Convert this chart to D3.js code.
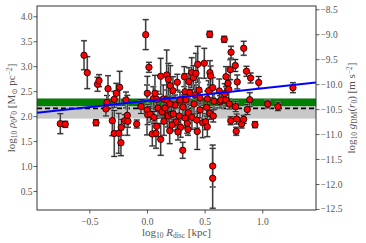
<!DOCTYPE html>
<html>
<head>
<meta charset="utf-8">
<script src="https://cdn.jsdelivr.net/npm/d3@7"></script>
<style>
  body { margin: 0; background: #fff; }
  svg { display: block; font-family: "Liberation Serif", "DejaVu Serif", serif; }
</style>
</head>
<body>
<svg id="chart" width="366" height="243"></svg>
<script>
// log10 R_disc [kpc]
const logR = [-0.752,-0.709,-0.546,-0.518,-0.442,-0.429,-0.416,-0.356,-0.347,-0.338,
  -0.301,-0.284,-0.266,-0.284,-0.245,-0.237,-0.223,-0.226,-0.193,-0.182,
  -0.171,-0.165,-0.089,-0.052,-0.011,0.003,0.017,0.000,0.006,0.029,
  0.046,0.055,0.069,0.061,0.084,0.078,0.084,0.119,0.119,0.141,
  0.147,0.171,0.171,0.176,0.185,0.185,0.197,0.202,0.214,0.225,
  0.228,0.263,0.280,0.292,0.310,0.324,0.330,0.350,0.356,0.358,
  0.364,0.373,0.388,0.390,0.402,0.425,0.431,0.436,0.440,0.451,
  0.483,0.497,0.509,0.518,0.523,0.523,0.535,0.544,0.546,0.552,
  0.546,0.570,0.570,0.570,0.575,0.581,0.627,0.633,0.642,0.670,
  0.674,0.685,0.685,0.703,0.709,0.714,0.722,0.726,0.729,0.766,
  0.769,0.778,0.774,0.783,0.821,0.839,0.839,0.863,0.870,0.891,
  0.899,0.937,0.969,1.047,1.136,1.266,0.243,0.286,0.312,0.252,
  0.330,0.408,0.460,0.095,0.130,0.199,0.460,0.416,0.338,0.217,
  0.269,0.156];
// log10 rho0 r0 [Msun pc^-2]
const logSigma = [1.848,1.836,3.219,2.870,1.868,2.638,2.710,2.143,2.273,2.549,
  1.908,1.652,2.457,2.337,1.656,2.578,1.776,1.467,1.908,2.323,
  2.016,1.896,1.842,2.193,3.632,2.457,2.978,2.123,2.029,2.037,
  1.642,2.349,2.457,1.972,1.796,1.656,2.337,1.535,2.798,2.343,
  1.896,2.824,2.323,2.022,2.738,2.002,1.708,2.610,2.042,2.509,
  2.042,2.678,2.002,1.776,1.315,2.790,2.489,1.856,1.736,2.068,
  2.690,2.469,2.870,1.976,2.770,2.858,1.922,1.692,3.038,2.523,
  1.868,3.058,1.888,2.177,2.343,1.788,2.509,3.640,2.870,2.804,
  2.056,2.570,1.000,0.754,2.002,2.297,2.503,2.289,2.323,3.539,
  2.449,2.790,2.323,2.658,2.537,2.243,2.930,1.908,3.279,3.014,
  2.189,1.942,1.696,2.684,1.842,3.359,1.936,2.898,2.133,2.329,
  2.764,1.828,2.674,2.243,2.189,2.569,2.223,2.323,2.183,1.882,
  1.962,2.243,2.123,2.163,2.083,2.243,2.363,2.423,2.323,1.822,
  1.682,2.163];
// symmetric 1-sigma errors
const errSigma = [0.20,0.06,0.29,0.32,0.06,0.14,0.12,0.14,0.14,0.26,
  0.30,0.46,0.20,0.16,0.40,0.32,0.16,0.26,0.12,0.16,
  0.40,0.12,0.08,0.14,0.30,0.34,0.10,0.50,0.20,0.16,
  0.24,0.24,0.36,0.12,0.20,0.30,0.16,0.32,0.36,0.28,
  0.28,0.50,0.20,0.24,0.32,0.12,0.26,0.40,0.20,0.28,
  0.16,0.16,0.16,0.20,0.16,0.20,0.36,0.20,0.12,0.20,
  0.28,0.24,0.30,0.24,0.24,0.40,0.16,0.36,0.36,0.24,
  0.30,0.30,0.16,0.16,0.16,0.20,0.20,0.06,0.24,0.20,
  0.12,0.20,0.42,0.60,0.12,0.16,0.24,0.12,0.16,0.06,
  0.20,0.20,0.12,0.16,0.20,0.10,0.20,0.08,0.12,0.12,
  0.10,0.10,0.08,0.14,0.08,0.14,0.08,0.10,0.10,0.14,
  0.10,0.06,0.12,0.08,0.08,0.10,0.20,0.16,0.24,0.16,
  0.20,0.20,0.16,0.16,0.12,0.16,0.12,0.20,0.16,0.12,
  0.16,0.12];

// fit line and reference bands
const fitIntercept = 2.306, fitSlope = 0.25;
const meanLevel = 2.155;
const grayBand = [1.95, 2.36];
const greenBand = [2.20, 2.35];
const gOffset = -12.64; // log g_DM = log(rho0 r0) + offset

const leftTicks = [0.5, 1.0, 1.5, 2.0, 2.5, 3.0, 3.5, 4.0];
const rightTicks = [-8.5, -9.0, -9.5, -10.0, -10.5, -11.0, -11.5, -12.0, -12.5];
const xTicks = [-0.5, 0.0, 0.5, 1.0];

const svg = d3.select("#chart");
const margin = { top: 6, right: 50, bottom: 33, left: 37 };
const W = 366, H = 243;

const x = d3.scaleLinear().domain([-0.954, 1.466]).range([margin.left, W - margin.right]);
const y = d3.scaleLinear().domain([0.119, 4.206]).range([H - margin.bottom, margin.top]);
const y2 = d3.scaleLinear().domain([0.119 + gOffset, 4.206 + gOffset]).range([H - margin.bottom, margin.top]);

const fmt = d => d3.format(".1f")(d).replace("-", "\u2212");

svg.append("clipPath").attr("id", "clip")
  .append("rect").attr("x", margin.left).attr("y", margin.top)
  .attr("width", W - margin.left - margin.right).attr("height", H - margin.top - margin.bottom);

const plot = svg.append("g").attr("clip-path", "url(#clip)");

// bands
plot.append("rect")
  .attr("x", margin.left).attr("width", W - margin.left - margin.right)
  .attr("y", y(grayBand[1])).attr("height", y(grayBand[0]) - y(grayBand[1]))
  .attr("fill", "#c8c8c8");
plot.append("rect")
  .attr("x", margin.left).attr("width", W - margin.left - margin.right)
  .attr("y", y(greenBand[1])).attr("height", y(greenBand[0]) - y(greenBand[1]))
  .attr("fill", "#008000");
plot.append("line")
  .attr("x1", margin.left).attr("x2", W - margin.right)
  .attr("y1", y(meanLevel)).attr("y2", y(meanLevel))
  .attr("stroke", "#000").attr("stroke-width", 1.8).attr("stroke-dasharray", "5,3");

const pts = logR.map((r, i) => ({ r: r, s: logSigma[i], e: errSigma[i] }));

// error bars
const eb = plot.append("g");
pts.forEach(d => {
  const cx = x(d.r), y0 = y(d.s - d.e), y1 = y(d.s + d.e);
  [["#b4b4b4", 2], ["#222", 1]].forEach(([c, w]) => {
    eb.append("line").attr("x1", cx).attr("x2", cx).attr("y1", y0).attr("y2", y1)
      .attr("stroke", c).attr("stroke-width", w);
    [y0, y1].forEach(yy => eb.append("line")
      .attr("x1", cx - 3).attr("x2", cx + 3).attr("y1", yy).attr("y2", yy)
      .attr("stroke", c).attr("stroke-width", w));
  });
});

// markers
plot.append("g").selectAll("circle").data(pts).enter().append("circle")
  .attr("cx", d => x(d.r)).attr("cy", d => y(d.s)).attr("r", 3.2)
  .attr("fill", "#ff0000").attr("stroke", "#000").attr("stroke-width", 0.8);

// best-fit line
plot.append("line")
  .attr("x1", x(-0.954)).attr("y1", y(fitIntercept + fitSlope * -0.954))
  .attr("x2", x(1.466)).attr("y2", y(fitIntercept + fitSlope * 1.466))
  .attr("stroke", "#0000ff").attr("stroke-width", 2);

// axes
const xAxis = svg.append("g").attr("transform", `translate(0,${H - margin.bottom})`)
  .call(d3.axisBottom(x).tickValues(xTicks).tickFormat(fmt).tickSize(3.5).tickSizeOuter(0));
const yAxis = svg.append("g").attr("transform", `translate(${margin.left},0)`)
  .call(d3.axisLeft(y).tickValues(leftTicks).tickFormat(fmt).tickSize(3.5).tickSizeOuter(0));
const yAxis2 = svg.append("g").attr("transform", `translate(${W - margin.right},0)`)
  .call(d3.axisRight(y2).tickValues(rightTicks).tickFormat(fmt).tickSize(3.5).tickSizeOuter(0));

[xAxis, yAxis, yAxis2].forEach(a => {
  a.select(".domain").remove();
  a.selectAll("line").attr("stroke", "#333").attr("stroke-width", 0.8);
  a.selectAll("text").attr("fill", "#555").style("font-size", "9.5px")
    .style("font-family", "'Liberation Serif', serif");
});
xAxis.selectAll("text").attr("dy", "0.9em");
yAxis.selectAll("text").attr("x", -4.5);
yAxis2.selectAll("text").attr("x", 4.5);

// frame
svg.append("rect")
  .attr("x", margin.left).attr("y", margin.top)
  .attr("width", W - margin.left - margin.right).attr("height", H - margin.top - margin.bottom)
  .attr("fill", "none").attr("stroke", "#333").attr("stroke-width", 1);

// axis labels with sub/superscripts
function label(g, parts) {
  const t = g.append("text").attr("fill", "#555").style("font-size", "11px").attr("text-anchor", "middle");
  parts.forEach(p => {
    const ts = t.append("tspan").text(p.t);
    if (p.i) ts.style("font-style", "italic");
    if (p.sub) ts.attr("baseline-shift", "-25%").style("font-size", "7.5px");
    if (p.sup) ts.attr("baseline-shift", "40%").style("font-size", "7.5px");
  });
  return t;
}

label(svg.append("g").attr("transform", `translate(${(margin.left + W - margin.right) / 2},236)`), [
  { t: "log" }, { t: "10", sub: 1 }, { t: " " }, { t: "R", i: 1 }, { t: "disc", sub: 1 }, { t: " [kpc]" }
]);

label(svg.append("g").attr("transform", `translate(15,${(margin.top + H - margin.bottom) / 2}) rotate(-90)`), [
  { t: "log" }, { t: "10", sub: 1 }, { t: " " }, { t: "ρ", i: 1 }, { t: "0", sub: 1 }, { t: "r", i: 1 }, { t: "0", sub: 1 },
  { t: " [M" }, { t: "⊙", sub: 1 }, { t: " pc" }, { t: "−2", sup: 1 }, { t: "]" }
]);

label(svg.append("g").attr("transform", `translate(355,${(margin.top + H - margin.bottom) / 2}) rotate(-90)`), [
  { t: "log" }, { t: "10", sub: 1 }, { t: " " }, { t: "g", i: 1 }, { t: "DM", sub: 1 }, { t: "(" }, { t: "r", i: 1 }, { t: "0", sub: 1 },
  { t: ") [m s" }, { t: "−2", sup: 1 }, { t: "]" }
]);
</script>
</body>
</html>
